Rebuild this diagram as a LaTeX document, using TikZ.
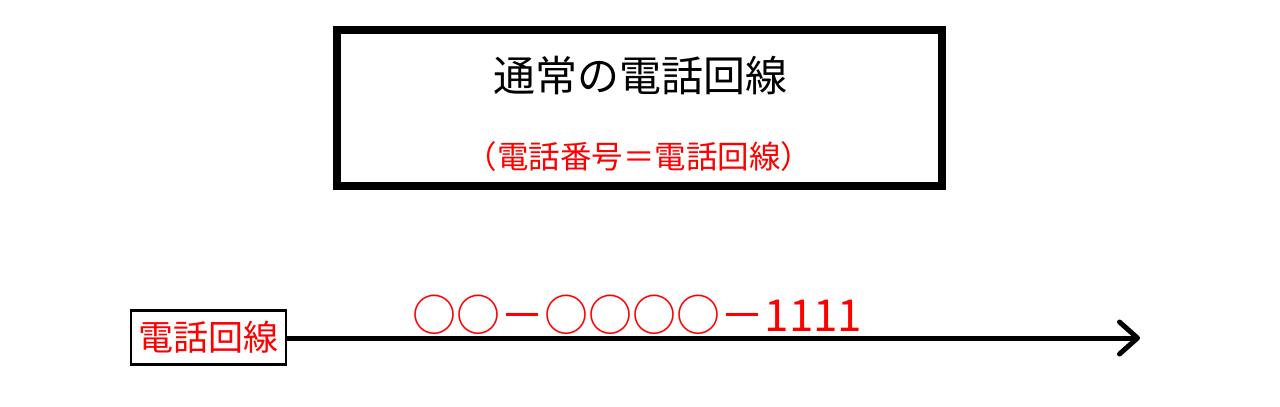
\documentclass[tikz,border=0pt]{standalone}
\usepackage{fontspec}
\newfontfamily\jpfont{Noto Sans CJK JP}
\usetikzlibrary{arrows.meta}

\tikzset{
  frame/.style={draw=black,line width=8pt,minimum width=605pt,minimum height=156pt,inner sep=0pt},
  linelabel/.style={draw=black,line width=2.5pt,fill=white,minimum width=155pt,minimum height=54pt,inner sep=0pt,
    text=red,font=\jpfont\fontsize{35}{40}\selectfont},
  wire/.style={line width=5pt,-{Straight Barb[length=18pt,width=32pt,round]}}
}

\begin{document}
\begin{tikzpicture}[x=1pt,y=-1pt]
  \useasboundingbox[fill=white] (0,0) rectangle (1280,407);
  % upper frame
  \node[frame]  (frame)     at (639.5,108) {};
  \node[inner sep=0pt,font=\jpfont\fontsize{42}{50}\selectfont]
                (title)     at (640,76) {通常の電話回線};
  \node[inner sep=0pt,text=red,font=\jpfont\fontsize{31.5}{36}\selectfont]
                (subtitle)  at (639,157) {（電話番号＝電話回線）};
  % line with its number
  \coordinate   (wireend)   at (1140,338);
  \draw[wire] (287,338) -- (wireend);
  \node[linelabel] (wirelabel) at (208.5,337.5) {電話回線};
  \node[inner sep=0pt,text=red,font=\jpfont\fontsize{44}{50}\selectfont]
                (number)    at (637.5,315) {○○－○○○○－1111};
\end{tikzpicture}
\end{document}
